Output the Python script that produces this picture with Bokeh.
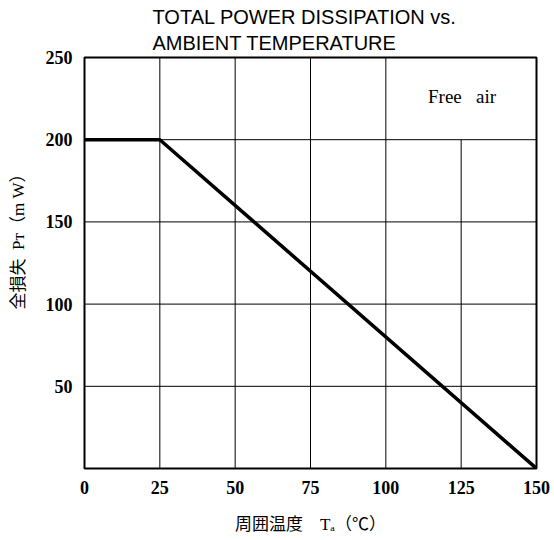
from bokeh.plotting import figure
from bokeh.models import Label, Range1d, FixedTicker, Title
from bokeh.embed import file_html
from bokeh.resources import INLINE

# Derating curve: total power dissipation vs ambient temperature
temp_c = [0, 25, 150]
power_mw = [200, 200, 0]

x_ticks = [0, 25, 50, 75, 100, 125, 150]
y_ticks = [50, 100, 150, 200, 250]

SERIF = "Liberation Serif"
SANS = "Liberation Sans"
MIXED = "Liberation Serif, Noto Sans CJK JP, DejaVu Serif"
NBSP = "\u00a0"
IDSP = "\u3000"

p = figure(width=554, height=540, output_backend="svg", toolbar_location=None,
           x_range=Range1d(0, 150), y_range=Range1d(0, 250),
           min_border_left=84, min_border_right=18, min_border_top=56, min_border_bottom=72)
p.background_fill_color = "white"
p.border_fill_color = "white"
p.outline_line_color = "black"
p.outline_line_width = 2
p.xgrid.visible = False
p.ygrid.visible = False

# Grid drawn as segments: the 125 line stops at 200 to leave room for the note
vx = [t for t in x_ticks[1:-1]]
vtop = [200 if t == 125 else 250 for t in vx]
p.segment(x0=vx, y0=[0] * len(vx), x1=vx, y1=vtop, line_color="black", line_width=1)
hy = [t for t in y_ticks[:-1]]
p.segment(x0=[0] * len(hy), y0=hy, x1=[150] * len(hy), y1=hy, line_color="black", line_width=1)

p.line(temp_c, power_mw, line_color="black", line_width=3.5)

for ax, ticks in ((p.xaxis, x_ticks), (p.yaxis, y_ticks)):
    ax.ticker = FixedTicker(ticks=ticks)
    ax.axis_line_color = None
    ax.major_tick_line_color = None
    ax.minor_tick_line_color = None
    ax.major_label_text_font = SERIF
    ax.major_label_text_font_style = "bold"
    ax.major_label_text_font_size = "18px"
    ax.major_label_text_color = "black"
    ax.axis_label_text_font = MIXED
    ax.axis_label_text_font_style = "normal"
    ax.axis_label_text_font_size = "17px"
    ax.axis_label_text_color = "black"
p.xaxis.major_label_standoff = 6
p.yaxis.major_label_standoff = 6

p.xaxis.axis_label = "周囲温度" + IDSP + "Tₐ（℃）"
p.xaxis.axis_label_standoff = 18
# ideographic spaces at the start lift the rotated label above the frame centre
p.yaxis.axis_label = IDSP * 3 + "全損失" + NBSP + " Pᴛ（m" + NBSP + "W）"
p.yaxis.axis_label_standoff = 15

p.title = Title(text="TOTAL POWER DISSIPATION vs.\nAMBIENT TEMPERATURE", align="left",
                offset=68, standoff=7, text_font=SANS, text_font_size="20px",
                text_font_style="normal", text_color="black", text_line_height=1.17)

# Note in the upper-right cell
p.add_layout(Label(x=114.0, y=220, text="Free" + NBSP * 2 + " air", text_font=SERIF,
                   text_font_size="19px", text_color="black"))

open("out.html", "w").write(file_html(p, INLINE))
